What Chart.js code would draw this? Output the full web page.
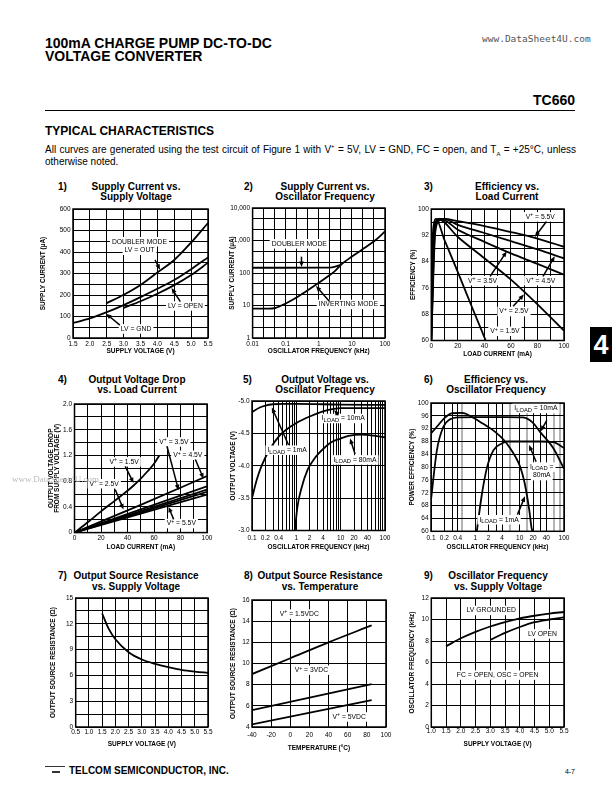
<!DOCTYPE html>
<html>
<head>
<meta charset="utf-8">
<title>TC660 Typical Characteristics</title>
<script src="https://cdn.jsdelivr.net/npm/chart.js@4.4.1/dist/chart.umd.min.js"></script>
<style>
  body { margin: 0; background: #fff; }
  #page { position: relative; width: 612px; height: 790px; overflow: hidden; font-family: "Liberation Sans", Arial, sans-serif; color: #000; }
  .t { position: absolute; white-space: nowrap; line-height: 1; }
  .c { transform: translate(-50%, -50%); }
  .m { transform: translateY(-50%); }
  .b { font-weight: bold; }
  canvas { position: absolute; }
</style>
</head>
<body>
<div id="page">
  <div class="t b m" style="left:45px;top:43px;font-size:14px">100mA CHARGE PUMP DC-TO-DC</div>
  <div class="t b m" style="left:45px;top:56px;font-size:14px">VOLTAGE CONVERTER</div>
  <div class="t m" style="left:482px;top:39px;font-size:9.5px;font-family:'DejaVu Sans Mono',monospace;color:#555">www.DataSheet4U.com</div>
  <div class="t b m" style="right:37px;top:100px;font-size:14px">TC660</div>
  <div style="position:absolute;left:45px;top:110px;width:530px;height:1px;background:#000"></div>
  <div class="t b m" style="left:45px;top:131px;font-size:12px">TYPICAL CHARACTERISTICS</div>
  <div class="t m" style="left:45px;top:150px;width:531px;font-size:10px;text-align:justify;text-align-last:justify;white-space:normal">All curves are generated using the test circuit of Figure 1 with V<sup style="font-size:6px">+</sup> = 5V, LV = GND, FC = open, and T<sub style="font-size:6px">A</sub> = +25°C, unless</div>
  <div class="t m" style="left:45px;top:162px;font-size:10px">otherwise noted.</div>

  <div class="t b m" style="left:58px;top:187px;font-size:10px">1)</div>
  <div class="t b c" style="left:136px;top:187px;font-size:10px">Supply Current vs.</div>
  <div class="t b c" style="left:136px;top:197px;font-size:10px">Supply Voltage</div>
  <div class="t b m" style="left:244px;top:187px;font-size:10px">2)</div>
  <div class="t b c" style="left:325px;top:187px;font-size:10px">Supply Current vs.</div>
  <div class="t b c" style="left:325px;top:197px;font-size:10px">Oscillator Frequency</div>
  <div class="t b m" style="left:424px;top:187px;font-size:10px">3)</div>
  <div class="t b c" style="left:507px;top:187px;font-size:10px">Efficiency vs.</div>
  <div class="t b c" style="left:507px;top:197px;font-size:10px">Load Current</div>

  <div class="t b m" style="left:58px;top:380px;font-size:10px">4)</div>
  <div class="t b c" style="left:137px;top:380px;font-size:10px">Output Voltage Drop</div>
  <div class="t b c" style="left:137px;top:390px;font-size:10px">vs. Load Current</div>
  <div class="t b m" style="left:243px;top:380px;font-size:10px">5)</div>
  <div class="t b c" style="left:325px;top:380px;font-size:10px">Output Voltage vs.</div>
  <div class="t b c" style="left:325px;top:390px;font-size:10px">Oscillator Frequency</div>
  <div class="t b m" style="left:424px;top:380px;font-size:10px">6)</div>
  <div class="t b c" style="left:496px;top:380px;font-size:10px">Efficiency vs.</div>
  <div class="t b c" style="left:496px;top:390px;font-size:10px">Oscillator Frequency</div>

  <div class="t b m" style="left:58px;top:576px;font-size:10px">7)</div>
  <div class="t b c" style="left:136px;top:576px;font-size:10px">Output Source Resistance</div>
  <div class="t b c" style="left:136px;top:587px;font-size:10px">vs. Supply Voltage</div>
  <div class="t b m" style="left:244px;top:576px;font-size:10px">8)</div>
  <div class="t b c" style="left:320px;top:576px;font-size:10px">Output Source Resistance</div>
  <div class="t b c" style="left:320px;top:587px;font-size:10px">vs. Temperature</div>
  <div class="t b m" style="left:424px;top:576px;font-size:10px">9)</div>
  <div class="t b c" style="left:498px;top:576px;font-size:10px">Oscillator Frequency</div>
  <div class="t b c" style="left:498px;top:587px;font-size:10px">vs. Supply Voltage</div>

  <div style="position:absolute;left:590px;top:327px;width:22px;height:35px;background:#000"></div>
  <div class="t b c" style="left:601px;top:345px;font-size:27px;color:#fff">4</div>

  <svg style="position:absolute;left:45px;top:765px" width="20" height="10"><line x1="0" y1="1.5" x2="20" y2="1.5" stroke="#000" stroke-width="0.8"/><line x1="7" y1="7" x2="15" y2="7" stroke="#000" stroke-width="1.6"/></svg>
  <div class="t b m" style="left:69px;top:771px;font-size:10px">TELCOM SEMICONDUCTOR, INC.</div>
  <div class="t m" style="right:37px;top:771px;font-size:7px">4-7</div>
</div>
<div class="t m" style="left:12px;top:479px;font-size:9px;color:#bbb;z-index:5">www.DataSheet4U.com</div>

<script>
// 1) supply current vs supply voltage
const c1VoltsDoubler = [2.5, 3.0, 3.5, 4.0, 4.5, 5.0, 5.5];
const c1Doubler = [162, 201, 247, 305, 363, 444, 535];
const c1VoltsGnd = [1.5, 2.0, 2.5, 3.0, 3.5, 4.0, 4.5, 5.0, 5.5];
const c1Gnd = [70, 91, 120, 153, 190, 229, 270, 320, 375];
const c1VoltsOpen = [3.0, 3.5, 4.0, 4.5, 5.0, 5.5];
const c1Open = [140, 171, 206, 246, 293, 350];

// 2) supply current vs oscillator frequency
const c2FreqDoubler = [0.01, 0.1, 1, 2.5, 4.5];
const c2Doubler = [145, 145, 146, 150, 178];
const c2FreqInv = [0.01, 0.03, 0.05, 0.1, 0.2, 0.5, 1, 2, 3, 5, 10, 20, 50, 100];
const c2Inv = [8, 8, 8.5, 11.5, 17, 31, 50, 82, 112, 190, 320, 520, 1000, 1900];

// 3) efficiency vs load current
const c3Load15 = [0, 0.8, 2, 3.5, 10, 20, 30, 41];
const c3Eff15 = [60, 88, 95.5, 97, 90.5, 80.8, 70.8, 60];
const c3Load25 = [0, 1.5, 3, 5, 20, 40, 60, 80, 100];
const c3Eff25 = [60, 90, 95.5, 97, 91.5, 85, 78.5, 71, 63];
const c3Load35 = [0, 2, 4, 7, 20, 40, 60, 80, 100];
const c3Eff35 = [60, 91, 96, 97, 93.7, 90, 86.5, 83.3, 80];
const c3Load45 = [0, 2.5, 5, 9, 20, 40, 60, 80, 100];
const c3Eff45 = [60, 92, 96.5, 97, 95.2, 92.7, 90.2, 87.7, 85];
const c3Load55 = [0, 3, 6, 10, 20, 40, 60, 80, 100];
const c3Eff55 = [60, 93, 96.5, 97, 96.3, 94.8, 93, 91, 88.5];

// 4) output voltage drop vs load current
const c4Load15 = [0, 10, 20, 30, 40, 45, 50, 55, 60, 64];
const c4Drop15 = [0, 0.16, 0.33, 0.49, 0.65, 0.74, 0.84, 0.95, 1.07, 1.2];
const c4Load = [0, 50, 100];
const c4Drop25 = [0, 0.43, 0.88];
const c4Drop35 = [0, 0.36, 0.72];
const c4Drop45 = [0, 0.335, 0.67];
const c4Drop50 = [0, 0.315, 0.635];
const c4Drop55 = [0, 0.295, 0.59];

// 5) output voltage vs oscillator frequency
const c5Freq1 = [0.1, 0.15, 0.2, 0.3, 0.5, 1, 10, 100];
const c5Vout1 = [-4.83, -4.9, -4.93, -4.95, -4.955, -4.955, -4.945, -4.94];
const c5Freq10 = [0.1, 0.13, 0.17, 0.25, 0.4, 0.6, 1, 2, 4, 7, 10, 100];
const c5Vout10 = [-3.5, -3.8, -4.02, -4.25, -4.45, -4.56, -4.66, -4.76, -4.84, -4.88, -4.89, -4.89];
const c5Freq80 = [0.93, 1.05, 1.3, 1.8, 2.5, 3.2, 4.5, 6, 10, 15, 30, 50, 100];
const c5Vout80 = [-3.0, -3.35, -3.65, -3.94, -4.1, -4.19, -4.29, -4.36, -4.42, -4.46, -4.48, -4.47, -4.44];
const c5TickLabels = ["0.1", "0.2", "0.4", "1", "2", "4", "10", "20", "40", "100"];

// 6) efficiency vs oscillator frequency
const c6Freq1 = [0.1, 0.15, 0.2, 0.3, 0.5, 0.9, 1.5, 2.8, 4.5, 6.1, 8, 10.2, 12.5, 14.5, 16.5, 18.6, 19.5];
const c6Eff1 = [90.5, 93.3, 95.3, 96.8, 96.9, 95.4, 93.5, 91, 88.3, 85.9, 83.3, 80.2, 76, 71.4, 66.5, 61, 60];
const c6Freq10 = [0.1, 0.136, 0.19, 0.27, 0.4, 1, 5, 12, 20, 28.8, 57.5, 100];
const c6Eff10 = [69.8, 85.3, 92.6, 94.9, 95.5, 95.6, 95.6, 95.5, 93.8, 91, 85.9, 79.5];
const c6Freq80 = [1.08, 1.4, 1.82, 2.57, 3.97, 5, 10, 30, 57, 100];
const c6Eff80 = [60, 71.4, 79.7, 85.3, 87.4, 88, 88, 88, 87.8, 86];
const c6TickLabels = ["0.1", "0.2", "0.4", "1", "2", "4", "10", "20", "40", "100"];

// 7) output source resistance vs supply voltage
const c7Volts = [1.5, 1.75, 2.0, 2.5, 3.0, 3.5, 4.0, 4.5, 5.0, 5.5];
const c7Res = [13.2, 11.4, 10.2, 8.7, 7.85, 7.35, 6.95, 6.65, 6.45, 6.3];

// 8) output source resistance vs temperature
const c8Temp15 = [-40, 0, 40, 85];
const c8Res15 = [9.0, 10.5, 12.0, 13.6];
const c8Temp = [-40, 85];
const c8Res3 = [5.6, 8.05];
const c8Res5 = [4.25, 6.55];

// 9) oscillator frequency vs supply voltage
const c9VoltsGnd = [1.5, 2.0, 2.5, 3.0, 3.5, 4.0, 4.5, 5.0, 5.5];
const c9FreqGnd = [7.5, 8.25, 8.85, 9.35, 9.75, 10.1, 10.35, 10.55, 10.7];
const c9VoltsOpen = [3.0, 3.5, 4.0, 4.5, 5.0, 5.5];
const c9FreqOpen = [8.1, 8.75, 9.3, 9.75, 10.0, 10.2];

Chart.defaults.font.family = '"Liberation Sans", Arial, sans-serif';
Chart.defaults.color = "#000";

// text notes and arrows, in data units of each chart
const NOTES = {
  c1: {
    labels: [[3.47, 428, "DOUBLER MODE\nLV = OUT"], [4.83, 149, "LV = OPEN"], [3.37, 42, "LV = GND"]],
    arrows: [[3.93, 363, 4.08, 318], [4.68, 169, 4.42, 232], [2.89, 60, 2.48, 113]],
  },
  c2: {
    labels: [[0.257, 790, "DOUBLER MODE"], [7.8, 10.8, "INVERTING MODE"]],
    arrows: [[0.3, 318, 0.3, 152], [2.07, 13.6, 0.82, 40]],
  },
  c3: {
    labels: [[82.1, 97.6, "V^{+} = 5.5V"], [38.6, 78.2, "V^{+} = 3.5V"], [82.5, 78.2, "V^{+} = 4.5V"], [62.3, 68.8, "V^{+} = 2.5V"], [55.5, 62.8, "V^{+} = 1.5V"]],
    arrows: [[86.8, 96.2, 78, 91.5], [44.3, 79.5, 56.8, 87.1], [84.2, 79.5, 93, 85.6], [61.7, 70.4, 69.8, 74]],
  },
  c4: {
    labels: [[75, 1.41, "V^{+} = 3.5V"], [85.5, 1.203, "V^{+} = 4.5V"], [37.5, 1.1, "V^{+} = 1.5V"], [22.4, 0.76, "V^{+} = 2.5V"], [80.6, 0.14, "V^{+} = 5.5V"]],
    arrows: [[69.8, 1.343, 78.5, 0.66], [91.2, 1.136, 97.4, 0.84], [38.3, 1.03, 44.6, 0.77], [30.7, 0.67, 37, 0.36], [74.8, 0.206, 71, 0.4]],
  },
  c5: {
    labels: [[0.62, -4.24, "I_{LOAD} = 1mA"], [11.4, -4.73, "I_{LOAD} = 10mA"], [21, -4.09, "I_{LOAD} = 80mA"]],
    arrows: [[0.667, -4.32, 0.28, -4.9], [8.9, -4.78, 7.1, -4.86], [21.1, -4.18, 16.3, -4.42]],
  },
  c6: {
    labels: [[23.2, 98.3, "I_{LOAD} = 10mA"], [31.5, 78.7, "I_{LOAD} =\n80mA"], [3.44, 63.6, "I_{LOAD} = 1mA"]],
    arrows: [[40.8, 94.6, 29.9, 91.2], [23.5, 81.7, 16.3, 86.9], [8.9, 65.2, 13.2, 70.9]],
  },
  c8: {
    labels: [[9.4, 14.67, "V^{+} = 1.5VDC"], [22, 9.37, "V^{+} = 3VDC"], [61.6, 4.95, "V^{+} = 5VDC"]],
  },
  c9: {
    labels: [[3.03, 10.84, "LV GROUNDED"], [4.77, 8.66, "LV OPEN"], [3.25, 4.83, "FC = OPEN, OSC = OPEN"]],
  },
};

function richParts(s) {
  const parts = [];
  const re = /([\^_])\{([^}]*)\}|([^\^_]+)/g;
  let m;
  while ((m = re.exec(s))) {
    if (m[3]) parts.push({ t: m[3], k: 0 });
    else parts.push({ t: m[2], k: m[1] === "^" ? 1 : -1 });
  }
  return parts;
}

function drawRich(ctx, s, cx, cy, size) {
  const lines = s.split("\n");
  const lh = size * 1.25;
  const rows = lines.map((line, i) => {
    const parts = richParts(line);
    let w = 0;
    parts.forEach((p) => {
      p.size = p.k === 1 ? size * 0.75 : p.k === -1 ? size * 0.85 : size;
      ctx.font = p.size + 'px "Liberation Sans", Arial, sans-serif';
      p.w = ctx.measureText(p.t).width;
      w += p.w;
    });
    return { parts, w, y: cy + (i - (lines.length - 1) / 2) * lh };
  });
  ctx.fillStyle = "#fff";
  rows.forEach((r) => ctx.fillRect(cx - r.w / 2 - 2, r.y - lh / 2 - 0.5, r.w + 4, lh + 1));
  ctx.fillStyle = "#000";
  ctx.textAlign = "left";
  ctx.textBaseline = "middle";
  rows.forEach((r) => {
    let x = cx - r.w / 2;
    r.parts.forEach((p) => {
      ctx.font = p.size + 'px "Liberation Sans", Arial, sans-serif';
      const dy = p.k === 1 ? -size * 0.3 : p.k === -1 ? size * 0.25 : 0;
      ctx.fillText(p.t, x, r.y + dy);
      x += p.w;
    });
  });
}

function arrow(ctx, x1, y1, x2, y2) {
  const ang = Math.atan2(y2 - y1, x2 - x1);
  const L = 5.5, W = 2.3;
  const c = Math.cos(ang), s = Math.sin(ang);
  ctx.strokeStyle = "#000";
  ctx.fillStyle = "#000";
  ctx.lineWidth = 1.5;
  ctx.beginPath();
  ctx.moveTo(x1, y1);
  ctx.lineTo(x2 - c * L * 0.8, y2 - s * L * 0.8);
  ctx.stroke();
  ctx.beginPath();
  ctx.moveTo(x2, y2);
  ctx.lineTo(x2 - L * c + W * s, y2 - L * s - W * c);
  ctx.lineTo(x2 - L * c - W * s, y2 - L * s + W * c);
  ctx.closePath();
  ctx.fill();
}

const notesPlugin = {
  id: "notes",
  afterDatasetsDraw(chart) {
    const n = NOTES[chart.canvas.id] || {};
    const ctx = chart.ctx;
    const xs = chart.scales.x, ys = chart.scales.y, a = chart.chartArea;
    ctx.save();
    ctx.strokeStyle = "#000";
    ctx.lineWidth = 1.5;
    ctx.strokeRect(a.left, a.top, a.right - a.left, a.bottom - a.top);
    (n.labels || []).forEach((l) => drawRich(ctx, l[2], xs.getPixelForValue(l[0]), ys.getPixelForValue(l[1]), 6.8));
    (n.arrows || []).forEach((r) =>
      arrow(ctx, xs.getPixelForValue(r[0]), ys.getPixelForValue(r[1]), xs.getPixelForValue(r[2]), ys.getPixelForValue(r[3]))
    );
    ctx.restore();
  },
};

function pts(xs, ys) {
  return xs.map((x, i) => ({ x: x, y: ys[i] }));
}
function curve(xs, ys) {
  return { data: pts(xs, ys), borderColor: "#000", borderWidth: 1.8, pointRadius: 0, fill: false, cubicInterpolationMode: "monotone" };
}
function steps(a, b, s) {
  const out = [];
  for (let v = a; v <= b + s / 1000; v += s) out.push(+v.toFixed(6));
  return out;
}
function logSteps(a, b) {
  const out = [];
  for (let d = a; d < b * 1.0001; d *= 10) for (let k = 1; k < 10; k++) if (d * k <= b * 1.0001) out.push(+(d * k).toPrecision(6));
  return out;
}
function near(v, list) {
  return list.some((t) => Math.abs(t - v) < Math.abs(v) * 1e-6 + 1e-9);
}

function scaleCfg(a, axis, size, tickOff) {
  const fs = 6.5;
  const tlh = fs * (a.titleLH || 1.2);
  return {
    type: a.type || "linear",
    min: a.min,
    max: a.max,
    reverse: !!a.reverse,
    bounds: "data",
    afterBuildTicks: (s) => {
      s.ticks = a.grid.map((v) => ({ value: v }));
    },
    afterFit: (s) => {
      if (axis === "x") s.height = size;
      else s.width = size;
      s.paddingLeft = 0;
      s.paddingRight = 0;
      s.paddingTop = 0;
      s.paddingBottom = 0;
    },
    grid: { drawTicks: false, color: a.gridColor || "#000", lineWidth: a.gridWidth || 1 },
    border: { display: false },
    ticks: {
      autoSkip: false,
      maxRotation: 0,
      minRotation: 0,
      color: "#000",
      font: { size: fs },
      padding: axis === "x" ? tickOff - fs * 0.6 : 2.5,
      callback: (v) => a.label(v),
    },
    title: {
      display: true,
      text: a.title,
      color: "#000",
      font: { size: fs, weight: "bold", lineHeight: a.titleLH || 1.2 },
      padding: axis === "x" ? { top: 0, bottom: 6 - tlh / 2 } : { top: 6 - tlh / 2, bottom: 0 },
    },
  };
}

// box: plot left, top, right, bottom, y title offset, x tick offset, x title offset (page px)
function makeChart(id, box, xa, ya, datasets) {
  const [L, T, R, B, yOff, xTickOff, xTitleOff] = box;
  const W = yOff + 6, H = xTitleOff + 6;
  const cv = document.createElement("canvas");
  cv.id = id;
  cv.width = W + (R - L) + 10;
  cv.height = 6 + (B - T) + H;
  cv.style.left = L - W + "px";
  cv.style.top = T - 6 + "px";
  document.getElementById("page").appendChild(cv);
  return new Chart(cv, {
    type: "line",
    data: { datasets: datasets },
    options: {
      responsive: false,
      animation: false,
      events: [],
      layout: { padding: { top: 6, right: 10, left: 0, bottom: 0 } },
      plugins: { legend: { display: false }, tooltip: { enabled: false } },
      scales: { x: scaleCfg(xa, "x", H, xTickOff), y: scaleCfg(ya, "y", W) },
    },
    plugins: [notesPlugin],
  });
}

const isPow10 = (v) => Math.abs(Math.log10(v) - Math.round(Math.log10(v))) < 1e-6;

makeChart("c1", [73, 209, 208, 338, 30, 6.6, 13],
  { min: 1.5, max: 5.5, grid: steps(1.5, 5.5, 0.5), label: (v) => v.toFixed(1), title: "SUPPLY VOLTAGE (V)" },
  { min: 0, max: 600, grid: steps(0, 600, 50), label: (v) => (v % 100 === 0 ? String(v) : ""), title: "SUPPLY CURRENT (µA)" },
  [curve(c1VoltsDoubler, c1Doubler), curve(c1VoltsGnd, c1Gnd), curve(c1VoltsOpen, c1Open)]);

makeChart("c2", [253, 208, 386, 338, 20.6, 6.6, 13],
  { type: "logarithmic", min: 0.01, max: 100, grid: steps(0, 12, 1).map((k) => Math.pow(10, -2 + k / 3)),
    label: (v) => (isPow10(v) ? String(+v.toPrecision(3)) : ""), title: "OSCILLATOR FREQUENCY (kHz)" },
  { type: "logarithmic", min: 1, max: 10000, grid: steps(0, 12, 1).map((k) => Math.pow(10, k / 3)),
    label: (v) => (isPow10(v) ? Math.round(v).toLocaleString("en-US") : ""), title: "SUPPLY CURRENT (µA)" },
  [curve(c2FreqDoubler, c2Doubler), curve(c2FreqInv, c2Inv)]);

makeChart("c3", [431, 209, 564, 341, 18.3, 5.5, 13.5],
  { min: 0, max: 100, grid: steps(0, 100, 10), label: (v) => (v % 20 === 0 ? String(v) : ""), title: "LOAD CURRENT (mA)" },
  { min: 60, max: 100, grid: steps(60, 100, 4), label: (v) => ((v - 60) % 8 === 0 ? String(v) : ""), title: "EFFICIENCY (%)" },
  [curve(c3Load15, c3Eff15), curve(c3Load25, c3Eff25), curve(c3Load35, c3Eff35), curve(c3Load45, c3Eff45), curve(c3Load55, c3Eff55)]);

makeChart("c4", [74, 404, 207, 533, 23.5, 5.7, 14.4],
  { min: 0, max: 100, grid: steps(0, 100, 10), label: (v) => (v % 20 === 0 ? String(v) : ""), title: "LOAD CURRENT (mA)" },
  { min: 0, max: 2, grid: steps(0, 2, 0.2), titleLH: 1.0,
    label: (v) => (Math.abs(v / 0.4 - Math.round(v / 0.4)) < 1e-6 ? (v === 0 ? "0" : v.toFixed(1)) : ""),
    title: ["OUTPUT VOLTAGE DROP", "FROM SUPPLY VOLTAGE (V)"] },
  [curve(c4Load15, c4Drop15), curve(c4Load, c4Drop25), curve(c4Load, c4Drop35), curve(c4Load, c4Drop45), curve(c4Load, c4Drop50), curve(c4Load, c4Drop55)]);

makeChart("c5", [252, 401, 385, 531, 19, 8, 16.5],
  { type: "logarithmic", min: 0.1, max: 100, grid: logSteps(0.1, 100),
    label: (v) => (near(v, c5TickLabels.map(Number)) ? String(+v.toPrecision(3)) : ""), title: "OSCILLATOR FREQUENCY (kHz)" },
  { min: -5, max: -3, reverse: true, grid: steps(-5, -3, 0.5), label: (v) => v.toFixed(1), title: "OUTPUT VOLTAGE (V)" },
  [curve(c5Freq1, c5Vout1), curve(c5Freq10, c5Vout10), curve(c5Freq80, c5Vout80)]);

const c6Grey = [0.5, 6, 15, 60, 80];
makeChart("c6", [431, 403, 564, 532, 19, 7, 15.7],
  { type: "logarithmic", min: 0.1, max: 100, grid: [0.1, 0.2, 0.3, 0.4, 0.5, 1, 2, 3, 4, 6, 10, 15, 20, 30, 40, 60, 80, 100],
    gridColor: (c) => (c.tick && near(c.tick.value, c6Grey) ? "#b4b4b4" : "#000"),
    gridWidth: (c) => (c.tick && near(c.tick.value, c6Grey) ? 2 : 1),
    label: (v) => (near(v, c6TickLabels.map(Number)) ? String(+v.toPrecision(3)) : ""), title: "OSCILLATOR FREQUENCY (kHz)" },
  { min: 60, max: 100, grid: steps(60, 100, 4), label: (v) => String(v), title: "POWER EFFICIENCY (%)" },
  [curve(c6Freq1, c6Eff1), curve(c6Freq10, c6Eff10), curve(c6Freq80, c6Eff80)]);

makeChart("c7", [76, 598, 209, 727, 22.7, 5, 17],
  { min: 0.5, max: 5.5, grid: steps(0.5, 5.5, 0.5), label: (v) => v.toFixed(1), title: "SUPPLY VOLTAGE (V)" },
  { min: 0, max: 15, grid: steps(0, 15, 1.5), label: (v) => (Math.abs(v % 3) < 1e-6 ? String(v) : ""), title: "OUTPUT SOURCE RESISTANCE (Ω)" },
  [curve(c7Volts, c7Res)]);

makeChart("c8", [252, 600, 386, 727, 19, 8, 21],
  { min: -40, max: 100, grid: steps(-40, 100, 20), label: (v) => String(v), title: "TEMPERATURE (°C)" },
  { min: 4, max: 16, grid: steps(4, 16, 2), label: (v) => String(v), title: "OUTPUT SOURCE RESISTANCE (Ω)" },
  [curve(c8Temp15, c8Res15), curve(c8Temp, c8Res3), curve(c8Temp, c8Res5)]);

makeChart("c9", [431, 598, 564, 727, 19.3, 4.5, 17],
  { min: 1, max: 5.5, grid: steps(1, 5.5, 0.5), label: (v) => v.toFixed(1), title: "SUPPLY VOLTAGE (V)" },
  { min: 0, max: 12, grid: steps(0, 12, 2), label: (v) => String(v), title: "OSCILLATOR FREQUENCY (kHz)" },
  [curve(c9VoltsGnd, c9FreqGnd), curve(c9VoltsOpen, c9FreqOpen)]);
</script>
</body>
</html>
